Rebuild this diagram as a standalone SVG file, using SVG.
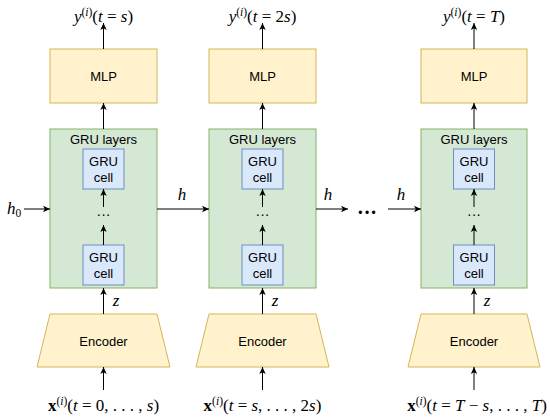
<svg xmlns="http://www.w3.org/2000/svg" width="550" height="419" viewBox="0 0 550 419">
<defs>
<marker id="ah" markerWidth="8" markerHeight="8" refX="7" refY="4" orient="auto" markerUnits="userSpaceOnUse">
<path d="M0,0.8 L7,4 L0,7.2 L1.8,4 Z" fill="#000"/>
</marker>
<style>
.mlp{fill:#fff2cc;stroke:#d6b656;stroke-width:1}
.gru{fill:#d5e8d4;stroke:#82b366;stroke-width:1}
.cell{fill:#dae8fc;stroke:#6c8ebf;stroke-width:1}
.lbl{font-family:"Liberation Sans",Arial,sans-serif;font-size:13px;fill:#000;text-anchor:middle}
.math{font-family:"Liberation Serif","Times New Roman",serif;font-size:17px;fill:#000;text-anchor:middle}
.it{font-style:italic}
.bf{font-weight:bold}
.sup{font-size:11.5px}
.conn line{stroke:#000;stroke-width:1;marker-end:url(#ah)}
</style>
</defs>
<rect width="550" height="419" fill="#fff"/>

<g id="col1">
<g id="mlp1"><rect class="mlp" x="50" y="49" width="107" height="54"/><text class="lbl" x="103.5" y="80.5">MLP</text></g>
<g id="gru1"><rect class="gru" x="50" y="129" width="107" height="159"/><text class="lbl" x="103.5" y="144">GRU layers</text></g>
<g id="cell1a"><rect class="cell" x="83" y="149" width="41" height="40"/><text class="lbl" x="103.5" y="166">GRU</text><text class="lbl" x="103.5" y="181.5">cell</text></g>
<g id="cell1b"><rect class="cell" x="83" y="245" width="41" height="40"/><text class="lbl" x="103.5" y="262">GRU</text><text class="lbl" x="103.5" y="277.5">cell</text></g>
<g id="enc1"><path class="mlp" d="M50,314 L157,314 L170,367 L37,367 Z"/><text class="lbl" x="103.5" y="345.5">Encoder</text></g>
</g>

<g id="col2">
<g id="mlp2"><rect class="mlp" x="209" y="49" width="107" height="54"/><text class="lbl" x="262.5" y="80.5">MLP</text></g>
<g id="gru2"><rect class="gru" x="209" y="129" width="107" height="159"/><text class="lbl" x="262.5" y="144">GRU layers</text></g>
<g id="cell2a"><rect class="cell" x="242" y="149" width="41" height="40"/><text class="lbl" x="262.5" y="166">GRU</text><text class="lbl" x="262.5" y="181.5">cell</text></g>
<g id="cell2b"><rect class="cell" x="242" y="245" width="41" height="40"/><text class="lbl" x="262.5" y="262">GRU</text><text class="lbl" x="262.5" y="277.5">cell</text></g>
<g id="enc2"><path class="mlp" d="M209,314 L316,314 L329,367 L196,367 Z"/><text class="lbl" x="262.5" y="345.5">Encoder</text></g>
</g>

<g id="col3">
<g id="mlp3"><rect class="mlp" x="421" y="49" width="106" height="54"/><text class="lbl" x="474" y="80.5">MLP</text></g>
<g id="gru3"><rect class="gru" x="421" y="129" width="106" height="159"/><text class="lbl" x="474" y="144">GRU layers</text></g>
<g id="cell3a"><rect class="cell" x="453.5" y="149" width="41" height="40"/><text class="lbl" x="474" y="166">GRU</text><text class="lbl" x="474" y="181.5">cell</text></g>
<g id="cell3b"><rect class="cell" x="453.5" y="245" width="41" height="40"/><text class="lbl" x="474" y="262">GRU</text><text class="lbl" x="474" y="277.5">cell</text></g>
<g id="enc3"><path class="mlp" d="M421,314 L527,314 L540,367 L408,367 Z"/><text class="lbl" x="474" y="345.5">Encoder</text></g>
</g>

<g id="connectors" class="conn">
<line x1="103.5" y1="49" x2="103.5" y2="23"/>
<line x1="103.5" y1="129" x2="103.5" y2="103"/>
<line x1="103.5" y1="207" x2="103.5" y2="189"/>
<line x1="103.5" y1="245" x2="103.5" y2="225"/>
<line x1="103.5" y1="314" x2="103.5" y2="288"/>
<line x1="103.5" y1="390" x2="103.5" y2="367"/>

<line x1="262.5" y1="49" x2="262.5" y2="23"/>
<line x1="262.5" y1="129" x2="262.5" y2="103"/>
<line x1="262.5" y1="207" x2="262.5" y2="189"/>
<line x1="262.5" y1="245" x2="262.5" y2="225"/>
<line x1="262.5" y1="314" x2="262.5" y2="288"/>
<line x1="262.5" y1="390" x2="262.5" y2="367"/>

<line x1="474" y1="49" x2="474" y2="23"/>
<line x1="474" y1="129" x2="474" y2="103"/>
<line x1="474" y1="207" x2="474" y2="189"/>
<line x1="474" y1="245" x2="474" y2="225"/>
<line x1="474" y1="314" x2="474" y2="288"/>
<line x1="474" y1="390" x2="474" y2="367"/>

<line x1="24" y1="209" x2="50" y2="209"/>
<line x1="157" y1="209" x2="209" y2="209"/>
<line x1="316" y1="209" x2="348" y2="209"/>
<line x1="388" y1="209" x2="421" y2="209"/>
</g>

<g id="labels">
<text class="lbl" x="103.5" y="219" style="font-size:14px">···</text>
<text class="lbl" x="262.5" y="219" style="font-size:14px">···</text>
<text class="lbl" x="474" y="219" style="font-size:14px">···</text>
<text class="math" x="367" y="219" style="font-size:20px;font-weight:bold">···</text>

<text class="math" x="14" y="214"><tspan class="it">h</tspan><tspan class="sup" dy="3">0</tspan></text>
<text class="math it" x="182" y="200">h</text>
<text class="math it" x="328" y="200">h</text>
<text class="math it" x="401" y="200">h</text>
<text class="math it" x="116" y="306">z</text>
<text class="math it" x="275" y="306">z</text>
<text class="math it" x="487" y="306">z</text>

<text class="math" x="103.5" y="22"><tspan class="it">y</tspan><tspan class="sup" dy="-6">(<tspan class="it">i</tspan>)</tspan><tspan dy="6">(<tspan class="it">t</tspan> = <tspan class="it">s</tspan>)</tspan></text>
<text class="math" x="262.5" y="22"><tspan class="it">y</tspan><tspan class="sup" dy="-6">(<tspan class="it">i</tspan>)</tspan><tspan dy="6">(<tspan class="it">t</tspan> = 2<tspan class="it">s</tspan>)</tspan></text>
<text class="math" x="474" y="22"><tspan class="it">y</tspan><tspan class="sup" dy="-6">(<tspan class="it">i</tspan>)</tspan><tspan dy="6">(<tspan class="it">t</tspan> = <tspan class="it">T</tspan>)</tspan></text>

<text class="math" x="103.5" y="411"><tspan class="bf">x</tspan><tspan class="sup" dy="-6">(<tspan class="it">i</tspan>)</tspan><tspan dy="6">(<tspan class="it">t</tspan> = 0, . . . , <tspan class="it">s</tspan>)</tspan></text>
<text class="math" x="262.5" y="411"><tspan class="bf">x</tspan><tspan class="sup" dy="-6">(<tspan class="it">i</tspan>)</tspan><tspan dy="6">(<tspan class="it">t</tspan> = <tspan class="it">s</tspan>, . . . , 2<tspan class="it">s</tspan>)</tspan></text>
<text class="math" x="477" y="411"><tspan class="bf">x</tspan><tspan class="sup" dy="-6">(<tspan class="it">i</tspan>)</tspan><tspan dy="6">(<tspan class="it">t</tspan> = <tspan class="it">T</tspan> − <tspan class="it">s</tspan>, . . . , <tspan class="it">T</tspan>)</tspan></text>
</g>
</svg>
